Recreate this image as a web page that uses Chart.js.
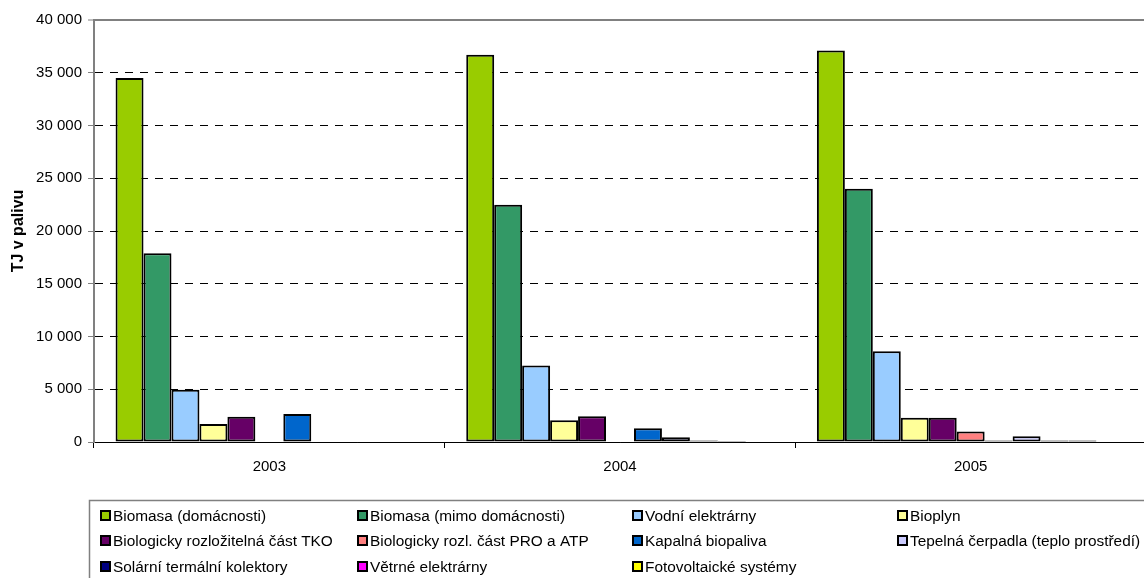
<!DOCTYPE html>
<html lang="cs">
<head>
<meta charset="utf-8">
<title>TJ v palivu</title>
<script src="https://cdn.jsdelivr.net/npm/chart.js@4.4.1/dist/chart.umd.min.js"></script>
<style>
  html, body { margin: 0; padding: 0; background: #fff; overflow: hidden; }
  #graf { display: block; }
</style>
</head>
<body>
<canvas id="graf" width="1170" height="578"></canvas>
<script>
// Data (TJ v palivu)
const roky = ['2003', '2004', '2005'];

const biomasaDomacnosti = [34500, 36700, 37100];
const biomasaMimo = [17900, 22500, 24000];
const vodniElektrarny = [4950, 7250, 8600];
const bioplyn = [1700, 2050, 2300];
const tko = [2400, 2450, 2300];
const proAtp = [0, 0, 1000];
const kapalnaBiopaliva = [2650, 1300, 150];
const tepelnaCerpadla = [0, 450, 550];
const solarniKolektory = [0, 150, 150];
const vetrneElektrarny = [0, 100, 150];
const fotovoltaika = [0, 0, 0];

const osaY = { min: 0, max: 40000, krok: 5000 };

const rady = [
  { label: 'Biomasa (domácnosti)', data: biomasaDomacnosti, barva: '#99CC00' },
  { label: 'Biomasa (mimo domácnosti)', data: biomasaMimo, barva: '#339966' },
  { label: 'Vodní elektrárny', data: vodniElektrarny, barva: '#99CCFF' },
  { label: 'Bioplyn', data: bioplyn, barva: '#FFFF99' },
  { label: 'Biologicky rozložitelná část TKO', data: tko, barva: '#660066' },
  { label: 'Biologicky rozl. část PRO a ATP', data: proAtp, barva: '#FF8080' },
  { label: 'Kapalná biopaliva', data: kapalnaBiopaliva, barva: '#0066CC' },
  { label: 'Tepelná čerpadla (teplo prostředí)', data: tepelnaCerpadla, barva: '#CCCCFF' },
  { label: 'Solární termální kolektory', data: solarniKolektory, barva: '#000080' },
  { label: 'Větrné elektrárny', data: vetrneElektrarny, barva: '#FF00FF' },
  { label: 'Fotovoltaické systémy', data: fotovoltaika, barva: '#FFFF00' }
];

const PISMO = 'Arial, "Liberation Sans", sans-serif';

// formát s mezerou jako oddělovačem tisíců
function formatTisice(v) {
  return String(v).replace(/\B(?=(\d{3})+(?!\d))/g, ' ');
}

// Legenda v rámečku pod grafem, 4 sloupce
const legendaPlugin = {
  id: 'legendaRamecek',
  afterDraw(chart) {
    const ctx = chart.ctx;
    const sloupce = [113, 370, 645, 910];
    const radky = [516, 541, 567];

    ctx.save();
    ctx.strokeStyle = '#808080';
    ctx.lineWidth = 1.5;
    ctx.strokeRect(89.5, 500.5, chart.width + 20, 200);

    ctx.font = '15.4px ' + PISMO;
    ctx.textBaseline = 'middle';
    ctx.textAlign = 'left';
    chart.data.datasets.forEach((ds, i) => {
      const x = sloupce[i % 4];
      const y = radky[Math.floor(i / 4)];
      ctx.fillStyle = ds.backgroundColor;
      ctx.fillRect(x - 12, y - 5, 9, 9);
      ctx.strokeStyle = '#000';
      ctx.lineWidth = 2;
      ctx.strokeRect(x - 12, y - 5, 9, 9);
      ctx.fillStyle = '#000';
      ctx.fillText(ds.label, x, y + 1);
    });
    ctx.restore();
  }
};

new Chart(document.getElementById('graf'), {
  type: 'bar',
  data: {
    labels: roky,
    datasets: rady.map(r => ({
      label: r.label,
      data: r.data,
      backgroundColor: r.barva,
      borderColor: '#000',
      borderWidth: 2,
      borderSkipped: false,
      inflateAmount: 0,
      categoryPercentage: 0.877,
      barPercentage: 1
    }))
  },
  options: {
    responsive: false,
    animation: false,
    layout: {
      padding: { left: 0, top: 20, right: 24, bottom: 96 }
    },
    plugins: {
      legend: { display: false },
      tooltip: { enabled: false }
    },
    scales: {
      x: {
        offset: true,
        grid: {
          offset: true,
          drawOnChartArea: false,
          drawTicks: true,
          tickLength: 6,
          tickColor: '#000',
          tickWidth: 1
        },
        border: { display: true, color: '#000', width: 1 },
        ticks: {
          color: '#000',
          font: { family: PISMO, size: 15 },
          padding: 10
        },
        afterFit(scale) { scale.height = 40; }
      },
      y: {
        min: osaY.min,
        max: osaY.max,
        ticks: {
          stepSize: osaY.krok,
          color: '#000',
          font: { family: PISMO, size: 15 },
          padding: 6,
          callback: (v) => formatTisice(v)
        },
        grid: {
          drawTicks: true,
          tickLength: 6,
          tickColor: '#808080',
          tickWidth: 1,
          color: (c) => {
            if (c.tick && c.tick.value === osaY.max) return '#808080';
            return '#000';
          },
          lineWidth: (c) => (c.tick && c.tick.value === osaY.max) ? 2 : 1
        },
        border: {
          display: true,
          color: '#808080',
          width: 2,
          dash: (c) => {
            if (!c.tick) return [];
            if (c.tick.value === osaY.min || c.tick.value === osaY.max) return [];
            return [8, 7];
          }
        },
        title: {
          display: true,
          text: 'TJ v palivu',
          color: '#000',
          font: { family: PISMO, size: 16, weight: 'bold' },
          padding: { top: 9, bottom: 0 }
        },
        afterFit(scale) { scale.width = 94; }
      }
    }
  },
  plugins: [legendaPlugin]
});
</script>
</body>
</html>
